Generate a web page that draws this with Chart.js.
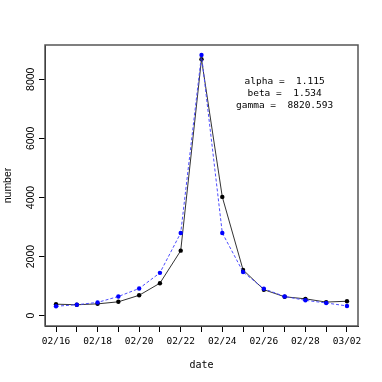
<!DOCTYPE html>
<html>
<head>
<meta charset="utf-8">
<script src="https://cdn.jsdelivr.net/npm/chart.js@4/dist/chart.umd.min.js"></script>
<style>
  html, body { margin: 0; padding: 0; background: #fff; }
</style>
</head>
<body>
<canvas id="chart" width="382" height="382"></canvas>
<script>
const dates = ["02/16", "02/17", "02/18", "02/19", "02/20", "02/21", "02/22", "02/23",
               "02/24", "02/25", "02/26", "02/27", "02/28", "03/01", "03/02"];
const observed = [390, 370, 400, 470, 690, 1100, 2200, 8680, 4020, 1550, 880, 640, 570, 460, 490];
const fitted = [320, 370, 450, 650, 920, 1450, 2800, 8820, 2800, 1480, 910, 650, 520, 430, 330];
const yTicks = [0, 2000, 4000, 6000, 8000];
const params = ["alpha =  1.115", "beta =  1.534", "gamma =  8820.593"];

const monoFont = "'DejaVu Sans Mono', monospace";
const sansFont = "'Liberation Sans', Arial, sans-serif";

// white background + R style box round the plot
const boxPlugin = {
  id: "box",
  beforeDraw(chart) {
    const ctx = chart.ctx;
    ctx.save();
    ctx.fillStyle = "#fff";
    ctx.fillRect(0, 0, chart.width, chart.height);
    ctx.restore();
  },
  afterDraw(chart) {
    const a = chart.chartArea;
    const ctx = chart.ctx;
    ctx.save();
    ctx.strokeStyle = "#555";
    ctx.lineWidth = 1.5;
    ctx.strokeRect(a.left, a.top, a.right - a.left, a.bottom - a.top);
    ctx.restore();
  }
};

// parameter text in the upper right
const paramPlugin = {
  id: "params",
  afterDatasetsDraw(chart) {
    const ctx = chart.ctx;
    const x = chart.scales.x.getPixelForValue(11);
    const y = chart.scales.y.getPixelForValue(7920);
    ctx.save();
    ctx.font = "9.5px " + monoFont;
    ctx.fillStyle = "#000";
    ctx.textAlign = "center";
    ctx.textBaseline = "middle";
    params.forEach((t, i) => ctx.fillText(t, x, y + i * 12));
    ctx.restore();
  }
};

const ctx = document.getElementById("chart").getContext("2d");

new Chart(ctx, {
  type: "line",
  data: {
    datasets: [
      {
        label: "fitted",
        data: fitted.map((v, i) => ({ x: i, y: v })),
        borderColor: "#4d4dff",
        borderWidth: 1,
        borderDash: [3, 2],
        pointRadius: 2.2,
        pointBackgroundColor: "#0000ff",
        pointBorderWidth: 0,
        tension: 0
      },
      {
        label: "observed",
        data: observed.map((v, i) => ({ x: i, y: v })),
        borderColor: "#333",
        borderWidth: 1,
        pointRadius: 2.2,
        pointBackgroundColor: "#000",
        pointBorderWidth: 0,
        tension: 0
      }
    ]
  },
  options: {
    responsive: false,
    animation: false,
    devicePixelRatio: 1,
    layout: { padding: { top: 45, right: 24, left: 0, bottom: 0 } },
    plugins: {
      legend: { display: false },
      tooltip: { enabled: false }
    },
    scales: {
      x: {
        type: "linear",
        min: -0.53,
        max: 14.53,
        afterBuildTicks: (scale) => { scale.ticks = dates.map((d, i) => ({ value: i })); },
        afterFit: (scale) => { scale.height = 56; },
        grid: { drawOnChartArea: false, drawTicks: true, tickLength: 6, tickColor: "#000" },
        border: { display: true, color: "#000", width: 1 },
        ticks: {
          autoSkip: false,
          maxRotation: 0,
          padding: 4,
          color: "#000",
          font: { family: monoFont, size: 9.5 },
          callback: (v) => (v % 2 === 0 ? dates[v] : "")
        },
        title: {
          display: true,
          text: "date",
          color: "#000",
          font: { family: monoFont, size: 10 },
          padding: { top: 0, bottom: 11 }
        }
      },
      y: {
        type: "linear",
        min: -349,
        max: 9160,
        afterBuildTicks: (scale) => { scale.ticks = yTicks.map((v) => ({ value: v })); },
        afterFit: (scale) => { scale.width = 45; },
        grid: { drawOnChartArea: false, drawTicks: true, tickLength: 6, tickColor: "#000" },
        border: { display: true, color: "#000", width: 1 },
        ticks: {
          minRotation: 90,
          maxRotation: 90,
          crossAlign: "center",
          padding: -4,
          color: "#000",
          font: { family: sansFont, size: 10.5 },
          callback: (v) => String(v)
        },
        title: {
          display: true,
          text: "number",
          color: "#000",
          font: { family: sansFont, size: 10.5 },
          padding: { top: 2, bottom: 0 }
        }
      }
    }
  },
  plugins: [boxPlugin, paramPlugin]
});
</script>
</body>
</html>
